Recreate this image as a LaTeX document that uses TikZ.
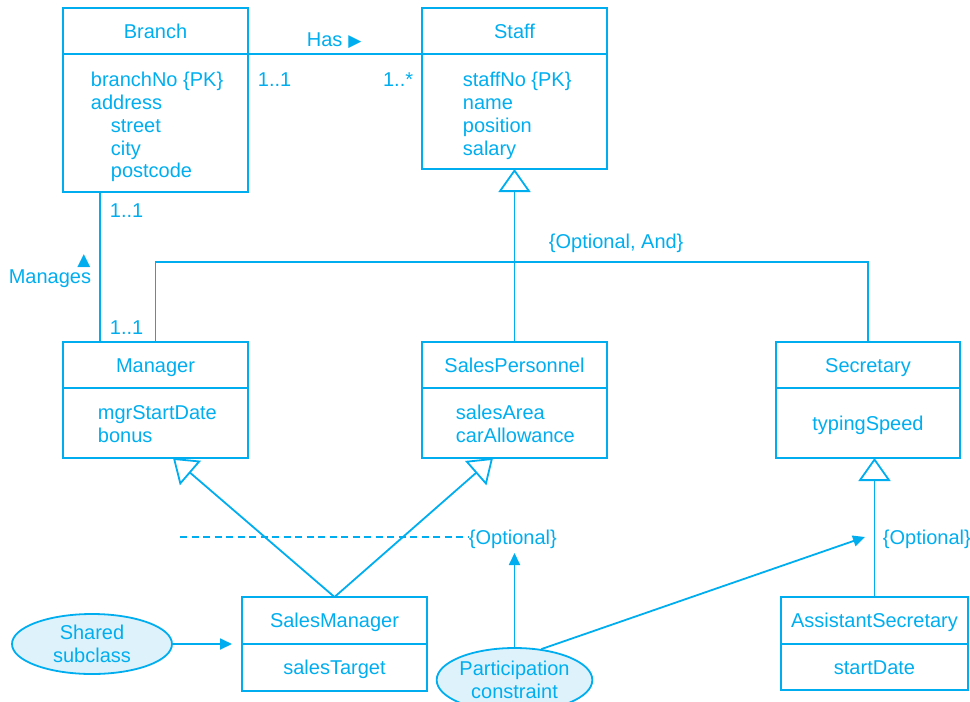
\documentclass[tikz,border=0pt]{standalone}
\usepackage{fontspec}
\setmainfont{Liberation Sans}
\newfontfamily\symf{DejaVu Sans}
\usetikzlibrary{shapes.geometric,arrows.meta,calc}
\definecolor{uml}{RGB}{0,174,239}
\definecolor{ellfill}{RGB}{222,242,251}
\begin{document}
\begin{tikzpicture}[x=1pt,y=-1pt,line width=1.8pt,color=uml,
  box/.style={draw,rectangle,inner sep=0pt,outer sep=0pt,anchor=north west},
  txt/.style={font=\fontsize{20}{23}\selectfont,inner sep=0pt,text height=14pt,text depth=0pt},
  ell/.style={draw,ellipse,fill=ellfill,inner sep=0pt,font=\fontsize{20}{23}\selectfont,align=center},
  gen/.style={-{Triangle[open,length=23pt,width=32pt]}},
  fa/.style={-{Triangle[length=12pt,width=11pt]}}]
\useasboundingbox (0,0) rectangle (970,702);
\clip (0,0) rectangle (970,702);

% Branch
\node[box,minimum width=185,minimum height=46] (branch-h) at (63,8) {};
\node[box,minimum width=185,minimum height=138] (branch-b) at (63,54) {};
\node[txt] (branch-t) at (branch-h.center) {Branch};
\node[txt,anchor=west] (branch-a1) at (90,79) {branchNo \{PK\}};
\node[txt,anchor=west] (branch-a2) at (90,102) {address};
\node[txt,anchor=west] (branch-a3) at (110,125) {street};
\node[txt,anchor=west] (branch-a4) at (110,148) {city};
\node[txt,anchor=west] (branch-a5) at (110,170) {postcode};

% Staff
\node[box,minimum width=185,minimum height=46] (staff-h) at (422,8) {};
\node[box,minimum width=185,minimum height=115] (staff-b) at (422,54) {};
\node[txt] (staff-t) at (staff-h.center) {Staff};
\node[txt,anchor=west] (staff-a1) at (462,79) {staffNo \{PK\}};
\node[txt,anchor=west] (staff-a2) at (462,102) {name};
\node[txt,anchor=west] (staff-a3) at (462,125) {position};
\node[txt,anchor=west] (staff-a4) at (462,148) {salary};

% Manager
\node[box,minimum width=185,minimum height=46] (manager-h) at (63,342) {};
\node[box,minimum width=185,minimum height=70] (manager-b) at (63,388) {};
\node[txt] (manager-t) at (manager-h.center) {Manager};
\node[txt,anchor=west] (manager-a1) at (97,412) {mgrStartDate};
\node[txt,anchor=west] (manager-a2) at (97,435) {bonus};

% SalesPersonnel
\node[box,minimum width=185,minimum height=46] (salesp-h) at (422,342) {};
\node[box,minimum width=185,minimum height=70] (salesp-b) at (422,388) {};
\node[txt] (salesp-t) at (salesp-h.center) {SalesPersonnel};
\node[txt,anchor=west] (salesp-a1) at (455,412) {salesArea};
\node[txt,anchor=west] (salesp-a2) at (455,435) {carAllowance};

% Secretary
\node[box,minimum width=184,minimum height=46] (secretary-h) at (776,342) {};
\node[box,minimum width=184,minimum height=70] (secretary-b) at (776,388) {};
\node[txt] (secretary-t) at (secretary-h.center) {Secretary};
\node[txt] (secretary-a1) at (secretary-b.center) {typingSpeed};

% SalesManager
\node[box,minimum width=185,minimum height=47] (salesm-h) at (242,597) {};
\node[box,minimum width=185,minimum height=47] (salesm-b) at (242,644) {};
\node[txt] (salesm-t) at (salesm-h.center) {SalesManager};
\node[txt] (salesm-a1) at (salesm-b.center) {salesTarget};

% AssistantSecretary
\node[box,minimum width=187,minimum height=47] (asec-h) at (781,597) {};
\node[box,minimum width=187,minimum height=46] (asec-b) at (781,644) {};
\node[txt] (asec-t) at (asec-h.center) {AssistantSecretary};
\node[txt] (asec-a1) at (asec-b.center) {startDate};

% Ellipses
\node[ell,minimum width=160,minimum height=60] (shared) at (92,644) {Shared\\subclass};
\node[ell,minimum width=155,minimum height=64] (part) at (514.5,680) {Participation\\constraint};

% Has association
\draw (branch-h.south east) -- (staff-h.south west);
\node[txt,anchor=west] (has) at (306,39) {Has\hspace{6pt}{\symf\fontsize{17}{17}\selectfont ▶}};
\node[txt,anchor=west] (m1) at (257,79) {1..1};
\node[txt,anchor=east] (m2) at (414,79) {1..*};

% Manages association
\coordinate (mg) at ($(branch-b.south west)+(37,0)$);
\draw (mg) -- (mg |- manager-h.north);
\node[txt,anchor=west] (m3) at (109,210) {1..1};
\node[txt,anchor=west] (m4) at (109,327) {1..1};
\node[txt] (mgarrow) at (84,258) {\symf\fontsize{17}{17}\selectfont ▲};
\node[txt,anchor=east] (manages) at (92,276) {Manages};

% Generalization Staff
\coordinate (genj) at (514.5,262);
\draw (manager-h.north) |- (secretary-h.north |- genj) -- (secretary-h.north);
\draw (salesp-h.north) -- (genj);
\draw[gen] (genj) -- (staff-b.south);
\node[txt,anchor=west] (optand) at (548,241) {\{Optional, And\}};

% SalesManager generalizations
\draw[gen] (salesm-h.north) -- ($(manager-b.south west)+(110,0)$);
\draw[gen] (salesm-h.north) -- ($(salesp-b.south west)+(71,0)$);

% Secretary generalization
\draw[gen] (asec-h.north) -- (asec-h.north |- secretary-b.south);

% dashed line and constraints
\coordinate (d0) at (180,537);
\node[txt,anchor=west] (opt1) at (468,537) {\{Optional\}};
\draw[dash pattern=on 7pt off 4.5pt,line width=1.5pt] (d0) -- (opt1.west);
\node[txt,anchor=west] (opt2) at (882,537) {\{Optional\}};

% constraint arrows
\coordinate (pt1) at (514.5,553);
\draw[fa] (part.north) -- (pt1);
\coordinate (pt2) at (865,537);
\draw[fa] (part.49) -- (pt2);
\coordinate (sm) at ($(salesm-h.south west)+(-10,0)$);
\draw[fa] (shared.east) -- (sm);
\end{tikzpicture}
\end{document}
